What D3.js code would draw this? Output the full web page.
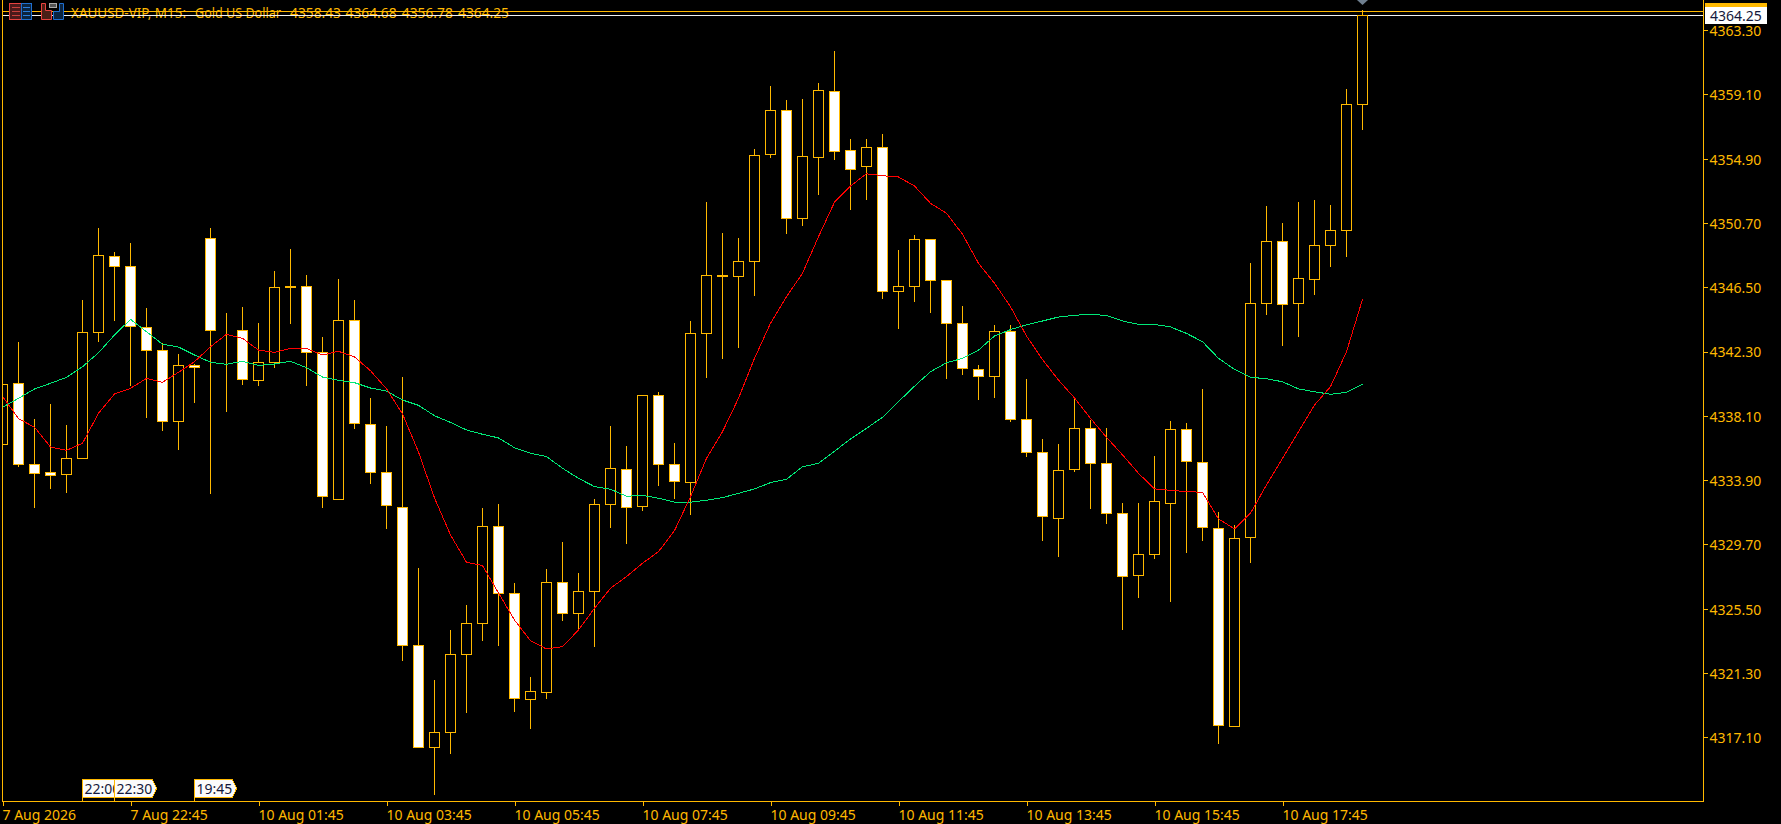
<!DOCTYPE html>
<html><head><meta charset="utf-8">
<script src="https://cdn.jsdelivr.net/npm/d3@7/dist/d3.min.js"></script>
<style>
html,body{margin:0;padding:0;background:#000;overflow:hidden}
svg{display:block}
text{font-family:"Noto Sans",sans-serif;font-size:14px}
</style></head><body>
<svg id="c" width="1781" height="824"></svg>
<script>
const opens=[4336.24,4340.23,4334.94,4334.42,4334.29,4335.33,4343.56,4348.53,4347.88,4343.89,4342.38,4337.75,4341.40,4349.71,4343.66,4343.69,4340.42,4341.60,4346.51,4346.57,4342.25,4332.65,4344.34,4337.55,4334.42,4332.13,4323.11,4316.45,4317.43,4322.52,4324.55,4330.89,4326.51,4319.58,4320.04,4327.23,4325.20,4326.64,4332.33,4334.61,4332.20,4339.44,4334.94,4333.76,4343.49,4347.22,4347.22,4348.21,4355.19,4358.07,4351.01,4355.00,4359.31,4355.45,4354.41,4355.65,4346.24,4346.57,4349.64,4346.96,4344.15,4341.14,4340.69,4343.63,4337.88,4335.72,4331.41,4334.61,4337.29,4335.00,4331.74,4327.69,4329.06,4332.39,4337.23,4335.07,4330.76,4317.82,4330.17,4345.45,4349.51,4345.45,4347.03,4349.25,4350.23,4358.43];
const highs=[4340.44,4342.99,4337.94,4338.94,4337.51,4345.72,4350.38,4348.86,4349.45,4345.19,4342.91,4342.19,4341.53,4350.38,4344.87,4345.26,4344.21,4347.62,4349.01,4347.36,4343.30,4347.09,4345.72,4339.31,4337.49,4340.69,4328.21,4320.89,4324.16,4325.79,4332.13,4332.39,4327.23,4321.09,4328.15,4329.91,4327.89,4332.72,4337.49,4336.18,4339.53,4339.72,4336.38,4344.34,4352.13,4350.10,4349.77,4355.58,4359.70,4358.79,4358.85,4359.90,4361.99,4356.24,4356.24,4356.56,4348.99,4349.97,4349.71,4346.96,4345.32,4341.47,4344.08,4344.08,4340.55,4336.64,4336.31,4339.31,4337.88,4337.36,4332.46,4332.46,4335.53,4337.81,4337.68,4339.90,4331.87,4331.02,4348.14,4351.86,4350.75,4352.13,4352.25,4351.93,4359.46,4364.68];
const lows=[4335.87,4334.78,4332.11,4333.34,4333.08,4335.33,4342.95,4344.32,4340.07,4337.98,4337.13,4335.89,4338.96,4333.02,4338.38,4340.14,4340.07,4341.25,4344.12,4340.07,4332.11,4332.65,4337.27,4333.67,4330.74,4322.10,4316.45,4313.35,4316.03,4318.71,4323.41,4323.08,4318.78,4317.67,4319.65,4324.72,4324.24,4323.02,4330.80,4329.76,4331.91,4333.54,4332.67,4331.65,4340.59,4341.83,4342.55,4345.96,4354.97,4350.01,4350.53,4352.55,4354.84,4351.58,4352.23,4345.76,4343.80,4345.56,4344.84,4340.53,4340.79,4339.18,4339.29,4337.75,4335.44,4329.98,4328.91,4334.46,4332.04,4331.06,4324.13,4326.23,4328.78,4325.96,4329.17,4329.95,4316.69,4317.82,4328.51,4344.71,4342.68,4343.27,4346.02,4347.85,4348.50,4356.78];
const closes=[4340.16,4334.94,4334.35,4334.22,4335.33,4343.56,4348.60,4347.88,4343.95,4342.38,4337.75,4341.40,4341.27,4343.69,4343.71,4340.49,4341.60,4346.51,4346.55,4342.25,4332.85,4344.34,4337.62,4334.42,4332.26,4323.11,4316.45,4317.43,4322.52,4324.55,4330.89,4326.51,4319.65,4320.10,4327.23,4325.20,4326.64,4332.33,4334.68,4332.13,4339.44,4334.94,4333.83,4343.49,4347.29,4347.29,4348.21,4355.13,4358.07,4351.01,4355.06,4359.37,4355.39,4354.21,4355.65,4346.24,4346.57,4349.64,4346.96,4344.15,4341.21,4340.69,4343.63,4337.88,4335.72,4331.55,4334.55,4337.29,4335.00,4331.74,4327.63,4329.06,4332.53,4337.23,4335.14,4330.83,4317.89,4330.11,4345.45,4349.51,4345.39,4347.09,4349.25,4350.23,4358.46,4364.25];
const maFast=[4339.38,4337.92,4337.36,4336.07,4335.85,4336.31,4338.27,4339.53,4339.90,4340.55,4340.29,4340.95,4341.64,4342.62,4343.43,4343.17,4342.40,4342.25,4342.51,4342.51,4342.08,4342.32,4341.95,4341.05,4339.87,4338.23,4335.74,4332.74,4330.32,4328.54,4328.32,4326.53,4324.76,4323.41,4322.87,4323.02,4324.11,4325.53,4326.84,4327.60,4328.47,4329.23,4330.60,4332.82,4335.33,4337.07,4339.25,4341.86,4344.15,4345.89,4347.42,4349.81,4352.06,4353.12,4353.92,4353.79,4353.71,4353.12,4351.99,4351.34,4349.97,4348.07,4346.77,4345.23,4343.32,4341.78,4340.44,4339.27,4337.94,4336.70,4335.55,4334.35,4333.33,4333.24,4333.15,4333.11,4331.37,4330.72,4331.74,4333.59,4335.33,4337.07,4338.81,4340.01,4342.29,4345.71];
const maSlow=[4338.66,4339.25,4339.86,4340.23,4340.62,4341.31,4342.23,4343.38,4344.41,4343.60,4342.78,4342.60,4342.08,4341.60,4341.47,4341.67,4341.40,4341.49,4341.67,4341.25,4340.64,4340.42,4340.27,4339.92,4339.72,4339.14,4338.79,4338.11,4337.67,4337.18,4336.90,4336.66,4336.02,4335.66,4335.44,4334.68,4334.02,4333.48,4333.31,4332.85,4332.91,4332.72,4332.46,4332.46,4332.59,4332.76,4333.04,4333.33,4333.74,4333.96,4334.78,4335.00,4335.79,4336.59,4337.29,4338.01,4339.03,4340.04,4340.99,4341.57,4341.86,4342.40,4343.32,4343.74,4344.05,4344.30,4344.56,4344.67,4344.74,4344.66,4344.30,4344.08,4344.08,4343.91,4343.49,4342.95,4341.86,4341.14,4340.62,4340.53,4340.33,4339.86,4339.68,4339.51,4339.64,4340.16];
const priceTicks=[4363.30,4359.10,4354.90,4350.70,4346.50,4342.30,4338.10,4333.90,4329.70,4325.50,4321.30,4317.10];
const timeTickIdx=[0,8,16,24,32,40,48,56,64,72,80];
const timeTickLabels=["7 Aug 2026","7 Aug 22:45","10 Aug 01:45","10 Aug 03:45","10 Aug 05:45","10 Aug 07:45","10 Aug 09:45","10 Aug 11:45","10 Aug 13:45","10 Aug 15:45","10 Aug 17:45"];
const eventIdx=[5,7,12];
const eventLabels=["22:00","22:30","19:45"];
const bidPrice=4364.25, askPrice=4364.52;
const titleParts=["XAUUSD-VIP, M15:","Gold US Dollar","4358.43","4364.68","4356.78","4364.25"];
const titleStarts=[71,195,290,345.6,401.8,458];
const titleWidths=[115,86,51,51,51,51];

const ORANGE="#ffb900", WHITE="#ffffff", NAVY="#14193c";
const L=2.5,R=1703.5,B=801.5;
const x=d3.scaleLinear().domain([0,85]).range([2.5,1362.5]);
const y=d3.scaleLinear().domain([4317.10,4363.30]).range([737.3,30.2]);
const py=v=>Math.floor(y(v))+.5;
const svg=d3.select("#c");
svg.append("rect").attr("width",1781).attr("height",824).attr("fill","#000");
svg.append("defs").append("clipPath").attr("id","plot").append("rect")
  .attr("x",2).attr("y",0).attr("width",R-2).attr("height",B);
const plot=svg.append("g").attr("clip-path","url(#plot)");

// title under lines
const title=plot.append("text").attr("y",18).attr("fill",ORANGE);
title.selectAll("tspan").data(titleParts).join("tspan")
  .attr("x",(d,i)=>titleStarts[i])
  .attr("textLength",(d,i)=>titleWidths[i]).attr("lengthAdjust","spacingAndGlyphs")
  .text(d=>d);

// bid / ask
[[askPrice,ORANGE],[bidPrice,"#f2f2f2"]].forEach(([p,c])=>{
  plot.append("line").attr("x1",L).attr("x2",R).attr("y1",py(p)).attr("y2",py(p))
    .attr("stroke",c).attr("shape-rendering","crispEdges");
});

// candles
const idx=d3.range(opens.length);
const cg=plot.append("g").attr("shape-rendering","crispEdges");
cg.selectAll("line").data(idx).join("line")
  .attr("x1",i=>x(i)).attr("x2",i=>x(i))
  .attr("y1",i=>py(highs[i])).attr("y2",i=>py(lows[i])+.5)
  .attr("stroke",ORANGE);
cg.selectAll("rect").data(idx).join("rect")
  .attr("x",i=>x(i)-5).attr("width",10)
  .attr("y",i=>py(Math.max(opens[i],closes[i])))
  .attr("height",i=>py(Math.min(opens[i],closes[i]))-py(Math.max(opens[i],closes[i])))
  .attr("fill",i=>closes[i]>=opens[i]?"#000":WHITE)
  .attr("stroke",ORANGE);

// moving averages
const line=d3.line().x((d,i)=>x(i)).y(d=>y(d));
plot.append("path").attr("d",line(maSlow)).attr("fill","none").attr("stroke","#00e878").attr("stroke-width",1).attr("shape-rendering","crispEdges");
plot.append("path").attr("d",line(maFast)).attr("fill","none").attr("stroke","#ff0000").attr("stroke-width",1).attr("shape-rendering","crispEdges");

// last-bar marker
plot.append("path").attr("fill","#6f7f8f")
  .attr("d",`M${x(85)-5.5},0L${x(85)+5.5},0L${x(85)},5Z`);

// frame
svg.append("path").attr("fill","none").attr("stroke",ORANGE).attr("shape-rendering","crispEdges")
  .attr("d",`M${L},0V${B}H${R}V0`);

// axes
const yAxis=d3.axisRight(y).tickValues(priceTicks).tickSize(4).tickPadding(2).tickFormat(d=>d.toFixed(2));
const gy=svg.append("g").attr("transform",`translate(${R},0)`).call(yAxis);
gy.select(".domain").remove();
gy.selectAll("line").attr("stroke",ORANGE).attr("shape-rendering","crispEdges");
gy.selectAll("text").attr("fill",ORANGE).attr("dy",".38em").style("font-family",'"Noto Sans",sans-serif').style("font-size","14px");

const xAxis=d3.axisBottom(x).tickValues(timeTickIdx).tickSize(4).tickPadding(0)
  .tickFormat(d=>timeTickLabels[timeTickIdx.indexOf(d)]);
const gx=svg.append("g").attr("transform",`translate(0,${B})`).call(xAxis);
gx.select(".domain").remove();
gx.selectAll("line").attr("stroke",ORANGE).attr("shape-rendering","crispEdges");
gx.selectAll("text").attr("fill",ORANGE).attr("text-anchor","start").attr("x",-0.5).attr("y",18).attr("dy",0)
  .style("font-family",'"Noto Sans",sans-serif').style("font-size","14px");

// price flags
svg.append("rect").attr("x",1705).attr("y",3).attr("width",62).attr("height",5).attr("fill",ORANGE);
svg.append("rect").attr("x",1705).attr("y",7).attr("width",62).attr("height",17).attr("fill",WHITE);
svg.append("text").attr("x",1710).attr("y",21).attr("fill",NAVY).text(bidPrice.toFixed(2));

// event flags
const fl=svg.append("g");
eventIdx.forEach((ix,k)=>{
  const X=Math.floor(x(ix))+.5;
  const g=fl.append("g");
  g.append("path").attr("fill","#fbfbfb").attr("stroke",ORANGE).attr("shape-rendering","crispEdges")
    .attr("d",`M${X},779.5H${X+38}L${X+42},788.5L${X+38},797.5H${X}Z`);
  g.append("line").attr("x1",X).attr("x2",X).attr("y1",797.5).attr("y2",B).attr("stroke",ORANGE).attr("shape-rendering","crispEdges");
  g.append("text").attr("x",X+2).attr("y",794).attr("fill",NAVY).text(eventLabels[k]);
});

// toolbar icons
const ic=svg.append("g").attr("fill","none");
ic.append("rect").attr("x",9.5).attr("y",3.5).attr("width",12).attr("height",16).attr("fill","#4a1a1a").attr("stroke","#e8423f");
ic.append("rect").attr("x",21.5).attr("y",3.5).attr("width",10).attr("height",16).attr("fill","#0c2440").attr("stroke","#1f6fd0");
[7,11,15].forEach(v=>{
  ic.append("line").attr("x1",12).attr("x2",20).attr("y1",v+.5).attr("y2",v+.5).attr("stroke","#c8413c");
  ic.append("line").attr("x1",23).attr("x2",30).attr("y1",v+.5).attr("y2",v+.5).attr("stroke","#2a7fe0");
});
ic.append("path").attr("d","M41.5,3.5H45.5V10.5H51.5V19.5H41.5Z").attr("fill","#4a1f16").attr("stroke","#e8423f");
ic.append("path").attr("d","M53.5,11.5H59.5V3.5H63.5V19.5H53.5Z").attr("fill","#0c2440").attr("stroke","#1f6fd0");
ic.append("rect").attr("x",49.5).attr("y",3.5).attr("width",7).attr("height",4).attr("fill","#555").attr("stroke","#aaa");
</script>
</body></html>
